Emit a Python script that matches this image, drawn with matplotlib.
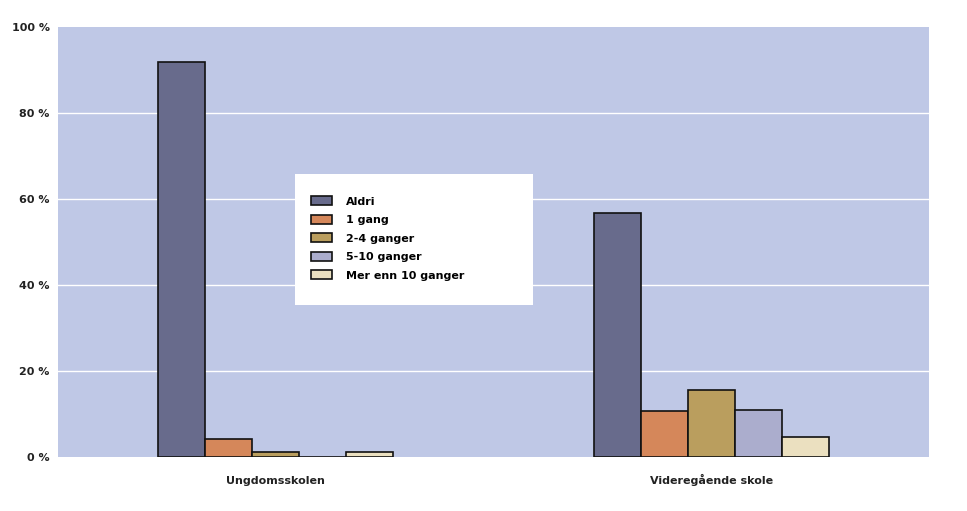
import matplotlib.pyplot as plt
import matplotlib.patches as mpatches
import numpy as np

# ── Data ──────────────────────────────────────────────────────────────────────
categories = ["Ungdomsskolen", "Videregående skole"]
series_names = ["Aldri", "1 gang", "2-4 ganger", "5-10 ganger", "Mer enn 10 ganger"]
aldri = [91.9, 56.8]
en_gang = [4.4, 10.7]
to_fire = [1.2, 15.6]
fem_ti = [0.1, 11.0]
mer_enn_ti = [1.2, 4.7]
yticks = [0, 20, 40, 60, 80, 100]

series = [aldri, en_gang, to_fire, fem_ti, mer_enn_ti]
colors = ["#686b8c", "#d5875a", "#ba9e5e", "#abadcd", "#ebe0c0"]

# ── Plot ──────────────────────────────────────────────────────────────────────
fig = plt.figure(figsize=(9.67, 5.11), dpi=100)
ax = fig.add_axes([0.06, 0.1047, 0.9007, 0.842])
ax.set_facecolor("#bfc8e6")

x = np.arange(len(categories))
width = 0.108
for i, (vals, name, col) in enumerate(zip(series, series_names, colors)):
    ax.bar(x + (i - 2) * width, vals, width, color=col, edgecolor="#111111",
           linewidth=1.2, label=name, zorder=3)

ax.set_xlim(-0.5, 1.5)
ax.set_ylim(0, 100)
for y in yticks[1:-1]:
    ax.axhline(y, color="white", linewidth=1.0, zorder=1)

ax.set_yticks(yticks)
ax.set_yticklabels([f"{v} %" for v in yticks], fontsize=8, fontweight="bold",
                   color="#222222")
ax.set_xticks(x)
ax.set_xticklabels(categories, fontsize=8, fontweight="bold", color="#222222")
for lbl in ax.get_xticklabels():
    lbl.set_verticalalignment("baseline")
ax.tick_params(length=0)
ax.tick_params(axis="x", pad=19)
ax.tick_params(axis="y", pad=6)
for spine in ax.spines.values():
    spine.set_visible(False)

# white legend box
box = mpatches.Rectangle((0.272, 0.355), 0.273, 0.304, transform=ax.transAxes,
                         facecolor="white", edgecolor="none", zorder=4)
ax.add_patch(box)
leg = ax.legend(loc="upper left", bbox_to_anchor=(0.2845, 0.62), frameon=False,
                prop={"size": 8, "weight": "bold"}, handlelength=1.9,
                handleheight=0.85, labelspacing=0.74, handletextpad=1.25,
                borderpad=0)
leg.set_zorder(5)

fig.savefig("out.png", dpi=100)
